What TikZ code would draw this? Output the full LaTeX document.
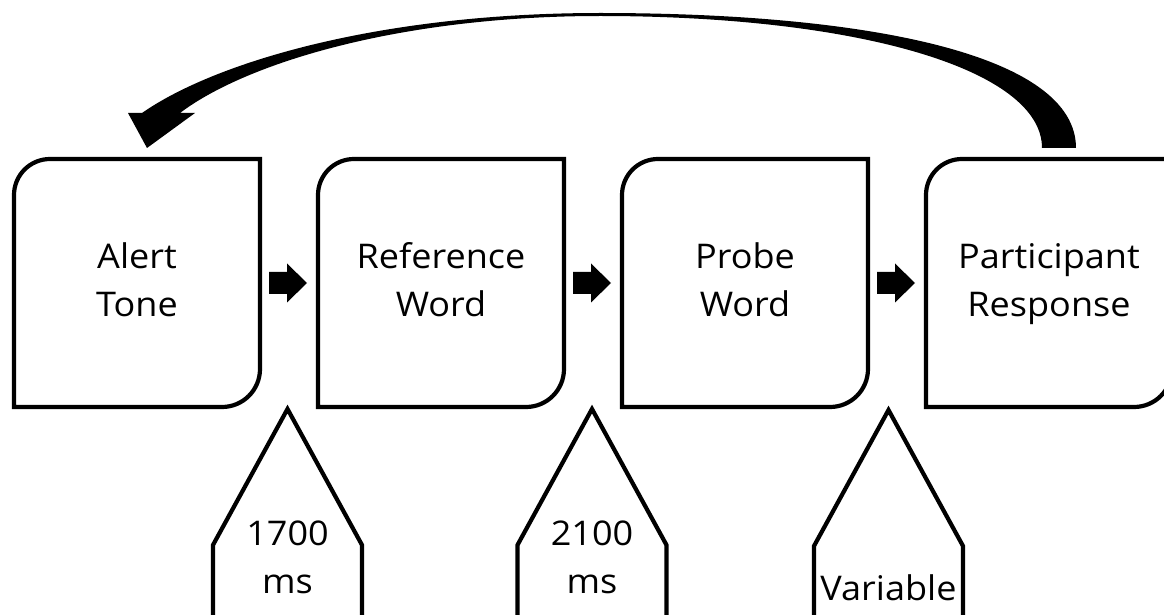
\documentclass[tikz,border=0pt]{standalone}
\usepackage{fontspec}
\setmainfont{Open Sans}[FakeStretch=1.06]
\usetikzlibrary{calc}
\begin{document}
\begin{tikzpicture}[x=0.5pt,y=-0.5pt,
  box/.style={minimum width=123pt, minimum height=124pt, inner sep=0pt, outer sep=0pt,
              align=center, font=\fontsize{17}{24}\selectfont},
  lbl/.style={inner sep=0pt, outer sep=0pt, align=center, font=\fontsize{17}{24}\selectfont},
  outline/.style={line width=2.1pt, draw=black, line join=miter},
  blockarrow/.pic={\fill[black] (-20,-11) -- (-2,-11) -- (-2,-19.5) -- (18,0) -- (-2,19.5) -- (-2,11) -- (-20,11) -- cycle;},
  pent/.pic={\draw[outline] (-74.5,230) -- (-74.5,136) -- (0,0) -- (74.5,136) -- (74.5,230);}
]
\useasboundingbox (0,0) rectangle (1164,615);
\clip (0,0) rectangle (1164,615);
\fill[white] (0,0) rectangle (1164,615);

% step boxes
\node[box] (a) at (137,283) {\strut Alert\\\strut Tone};
\node[box] (b) at (441,283) {\strut Reference\\\strut Word};
\node[box] (c) at (745,283) {\strut Probe\\\strut Word};
\node[box] (d) at (1049,283) {\strut Participant\\\strut Response};

\foreach \n in {a,b,c,d}{
  \draw[outline] (\n.south west) -- ([yshift=-18pt]\n.north west)
    arc[start angle=180, end angle=90, radius=18pt] -- (\n.north east)
    -- ([yshift=19pt]\n.south east)
    arc[start angle=0, end angle=-90, radius=19pt] -- cycle;
}

% small block arrows between boxes
\pic at ($(a.east)!0.5!(b.west)$) {blockarrow};
\pic at ($(b.east)!0.5!(c.west)$) {blockarrow};
\pic at ($(c.east)!0.5!(d.west)$) {blockarrow};

% curved return arrow from d to a
\fill[black] ($(d.north)+(27,-11)$)
  .. controls (1076,55) and (870,13) .. (600,13)
  .. controls (380,13) and (215,62) .. ($(a.north)+(5,-46)$)
  -- ($(a.north)+(-9,-46)$) -- ($(a.north)+(10,-11)$) -- ($(a.north)+(58,-46)$)
  -- ($(a.north)+(43,-46)$)
  .. controls (246,63) and (400,16) .. (600,16)
  .. controls (860,16) and (1042,70) .. ($(d.north)+(-7,-11)$) -- cycle;

% duration callouts
\pic at (287.5,409) {pent};
\pic at (592,409) {pent};
\pic at (888.5,410) {pent};
\node[lbl] (t1) at (287.5,559.4) {\strut 1700\\\strut ms};
\node[lbl] (t2) at (592,559.4) {\strut 2100\\\strut ms};
\node[lbl] (t3) at (888.5,590.4) {\strut Variable};
\end{tikzpicture}
\end{document}
